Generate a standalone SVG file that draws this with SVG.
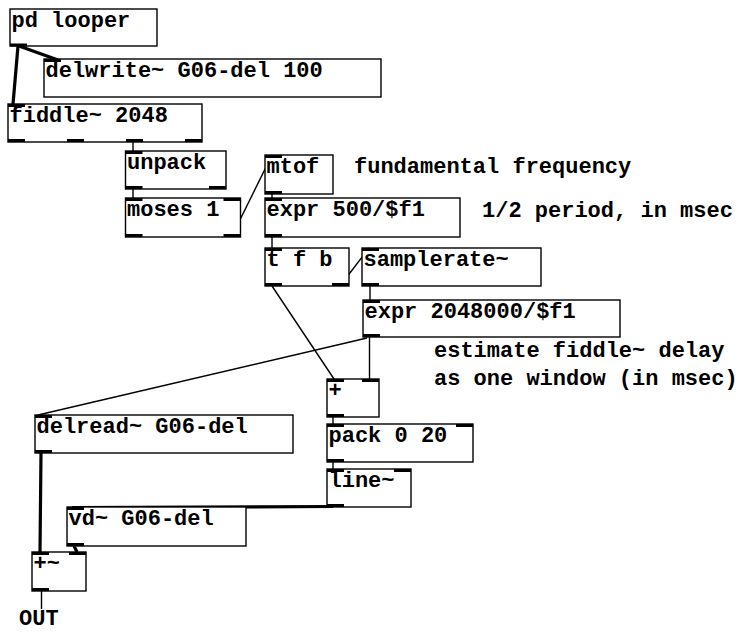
<svg xmlns="http://www.w3.org/2000/svg" width="747" height="632" viewBox="0 0 747 632">
<style>
.box{fill:#fff;stroke:#000;stroke-width:1.4}
.io{fill:#000}
.t{font-family:"Liberation Mono","Courier New",monospace;font-weight:bold;font-size:22px;fill:#000}
.c{stroke:#000;stroke-width:1.4;fill:none}
.s{stroke:#000;stroke-width:3.2;fill:none}
</style>
<rect width="747" height="632" fill="#fff"/>
<g id="connectors">
<line class="s" x1="18" y1="46" x2="13" y2="104"/>
<line class="s" x1="19" y1="46" x2="58" y2="60"/>
<line class="c" x1="133" y1="142" x2="133" y2="151"/>
<line class="c" x1="133" y1="189" x2="133" y2="198"/>
<line class="c" x1="231.5" y1="237" x2="272" y2="155"/>
<line class="c" x1="272" y1="194" x2="272" y2="198"/>
<line class="c" x1="272" y1="237" x2="272" y2="248"/>
<line class="c" x1="340" y1="286" x2="369" y2="248"/>
<line class="c" x1="272" y1="286" x2="334" y2="379"/>
<line class="c" x1="370" y1="286" x2="370" y2="300"/>
<line class="c" x1="369.5" y1="337" x2="369.5" y2="379"/>
<line class="c" x1="367" y1="338" x2="38" y2="415"/>
<line class="c" x1="333" y1="417" x2="333" y2="424"/>
<line class="c" x1="333" y1="462" x2="333" y2="469"/>
<line class="s" x1="333" y1="506.5" x2="72" y2="507.5"/>
<line class="s" x1="41" y1="453" x2="40" y2="552"/>
<line class="s" x1="74" y1="546" x2="77" y2="552"/>
<line class="c" x1="41.5" y1="591" x2="41.5" y2="609"/>
</g>
<g id="pd-looper"><rect class="box" x="10" y="9" width="147" height="37"/><rect class="io" x="10" y="43.5" width="17" height="3"/><text class="t" x="11.5" y="27">pd looper</text></g>
<g id="delwrite"><rect class="box" x="44" y="59" width="337" height="38"/><rect class="io" x="44" y="59" width="17" height="3"/><text class="t" x="45.5" y="76.5">delwrite~ G06-del 100</text></g>
<g id="fiddle"><rect class="box" x="8" y="104" width="194" height="38"/><rect class="io" x="8" y="104" width="17" height="3"/><rect class="io" x="8" y="139" width="17" height="3"/><rect class="io" x="67" y="139" width="17" height="3"/><rect class="io" x="126" y="139" width="17" height="3"/><rect class="io" x="185" y="139" width="17" height="3"/><text class="t" x="9.5" y="121.5">fiddle~ 2048</text></g>
<g id="unpack"><rect class="box" x="125.5" y="151" width="100.5" height="38"/><rect class="io" x="125.5" y="151" width="17" height="3"/><rect class="io" x="125.5" y="186" width="17" height="3"/><rect class="io" x="209" y="186" width="17" height="3"/><text class="t" x="127" y="168.5">unpack</text></g>
<g id="moses"><rect class="box" x="125.5" y="198" width="115" height="39"/><rect class="io" x="125.5" y="198" width="17" height="3"/><rect class="io" x="223.5" y="198" width="17" height="3"/><rect class="io" x="125.5" y="234" width="17" height="3"/><rect class="io" x="223.5" y="234" width="17" height="3"/><text class="t" x="127" y="215.5">moses 1</text></g>
<g id="mtof"><rect class="box" x="265" y="155" width="68" height="39"/><rect class="io" x="265" y="155" width="17" height="3"/><rect class="io" x="265" y="191" width="17" height="3"/><text class="t" x="266.5" y="172.5">mtof</text></g>
<g id="expr500"><rect class="box" x="265" y="198" width="195" height="39"/><rect class="io" x="265" y="198" width="17" height="3"/><rect class="io" x="265" y="234" width="17" height="3"/><text class="t" x="266.5" y="215.5">expr 500/$f1</text></g>
<g id="tfb"><rect class="box" x="265" y="248" width="84" height="38"/><rect class="io" x="265" y="248" width="17" height="3"/><rect class="io" x="265" y="283" width="17" height="3"/><rect class="io" x="332" y="283" width="17" height="3"/><text class="t" x="266.5" y="265.5">t f b</text></g>
<g id="samplerate"><rect class="box" x="362" y="248" width="179" height="38"/><rect class="io" x="362" y="248" width="17" height="3"/><rect class="io" x="362" y="283" width="17" height="3"/><text class="t" x="363.5" y="265.5">samplerate~</text></g>
<g id="expr2048"><rect class="box" x="363" y="300" width="257" height="37"/><rect class="io" x="363" y="300" width="17" height="3"/><rect class="io" x="363" y="334" width="17" height="3"/><text class="t" x="364.5" y="317.5">expr 2048000/$f1</text></g>
<g id="plus"><rect class="box" x="327" y="379" width="52" height="38"/><rect class="io" x="327" y="379" width="17" height="3"/><rect class="io" x="362" y="379" width="17" height="3"/><rect class="io" x="327" y="414" width="17" height="3"/><text class="t" x="328.5" y="396.5">+</text></g>
<g id="pack"><rect class="box" x="327" y="424" width="146" height="38"/><rect class="io" x="327" y="424" width="17" height="3"/><rect class="io" x="456" y="424" width="17" height="3"/><rect class="io" x="327" y="459" width="17" height="3"/><text class="t" x="328.5" y="441.5">pack 0 20</text></g>
<g id="line"><rect class="box" x="327" y="469" width="84" height="38"/><rect class="io" x="327" y="469" width="17" height="3"/><rect class="io" x="394" y="469" width="17" height="3"/><rect class="io" x="327" y="504" width="17" height="3"/><text class="t" x="328.5" y="486.5">line~</text></g>
<g id="delread"><rect class="box" x="35" y="415" width="258" height="38"/><rect class="io" x="35" y="415" width="17" height="3"/><rect class="io" x="35" y="450" width="17" height="3"/><text class="t" x="36.5" y="432.5">delread~ G06-del</text></g>
<g id="vd"><rect class="box" x="67" y="507" width="179" height="39"/><rect class="io" x="67" y="507" width="17" height="3"/><rect class="io" x="67" y="543" width="17" height="3"/><text class="t" x="68.5" y="524.5">vd~ G06-del</text></g>
<g id="plus-sig"><rect class="box" x="32" y="552" width="54" height="39"/><rect class="io" x="32" y="552" width="17" height="3"/><rect class="io" x="69" y="552" width="17" height="3"/><rect class="io" x="32" y="588" width="17" height="3"/><text class="t" x="33.5" y="569.5">+~</text></g>
<g id="comments">
<text class="t" x="354" y="173">fundamental frequency</text>
<text class="t" x="482" y="216.5">1/2 period, in msec</text>
<text class="t" x="434" y="357">estimate fiddle~ delay</text>
<text class="t" x="434" y="385">as one window (in msec)</text>
<text class="t" x="19" y="625">OUT</text>
</g>
</svg>
